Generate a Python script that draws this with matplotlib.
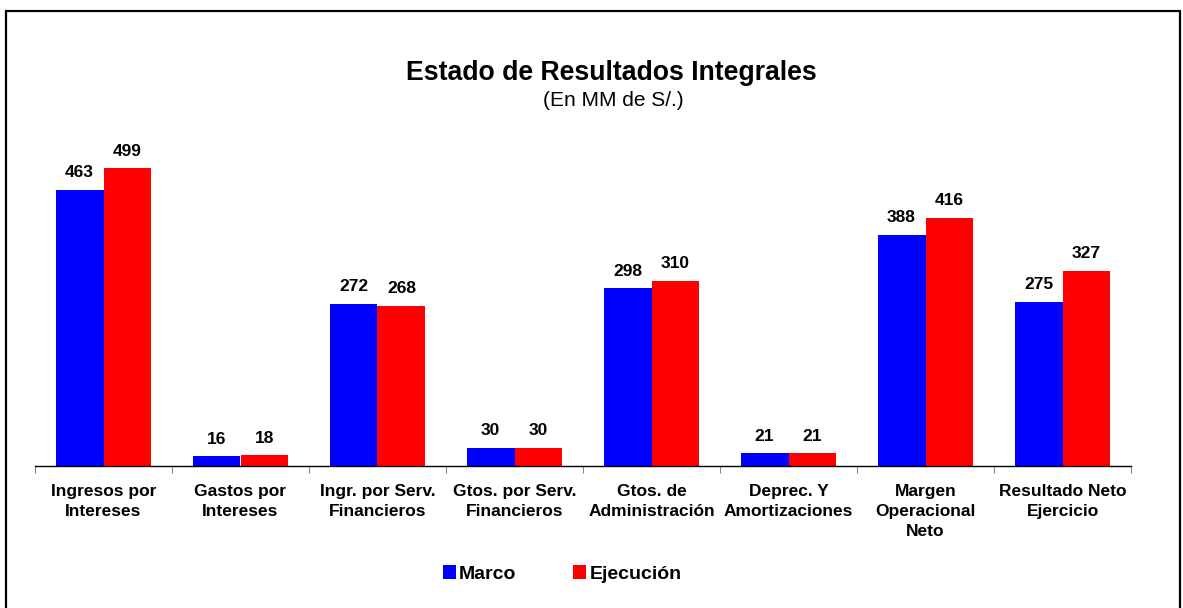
import matplotlib

matplotlib.use("Agg")
import matplotlib.pyplot as plt
import numpy as np
from matplotlib.patches import Rectangle

plt.rcParams["font.family"] = ["Liberation Sans", "DejaVu Sans"]

categories = [
    "Ingresos por\nIntereses",
    "Gastos por\nIntereses",
    "Ingr. por Serv.\nFinancieros",
    "Gtos. por Serv.\nFinancieros",
    "Gtos. de\nAdministración",
    "Deprec. Y\nAmortizaciones",
    "Margen\nOperacional\nNeto",
    "Resultado Neto\nEjercicio",
]
marco = [463, 16, 272, 30, 298, 21, 388, 275]
ejecucion = [499, 18, 268, 30, 310, 21, 416, 327]

BLUE = "#0000ff"
RED = "#ff0000"

fig = plt.figure(figsize=(11.83, 6.08), dpi=100)
fig.patch.set_facecolor("white")

# frame around whole chart (bottom edge falls outside the image)
fig.patches.append(Rectangle((6 / 1183, -0.02), 1174 / 1183, (608 - 11) / 608 + 0.02,
                             transform=fig.transFigure, fill=False, edgecolor="black",
                             linewidth=1.6))

ax = fig.add_axes([35 / 1183, (608 - 466) / 608, 1096 / 1183, 0.51])

x = np.arange(len(categories))
w = 0.35
ax.bar(x - w / 2, marco, w, color=BLUE, label="Marco")
ax.bar(x + w / 2, ejecucion, w, color=RED, label="Ejecución")

for xi, v in zip(x - w / 2, marco):
    ax.annotate(str(v), (xi, v), xytext=(0, 7), textcoords="offset points",
                ha="center", va="bottom", fontsize=12.5, fontweight="bold")
for xi, v in zip(x + w / 2, ejecucion):
    ax.annotate(str(v), (xi, v), xytext=(0, 7), textcoords="offset points",
                ha="center", va="bottom", fontsize=12.5, fontweight="bold")

ax.set_xlim(-0.5, len(categories) - 0.5)
ax.set_ylim(0, 520)
ax.set_yticks([])
for s in ("left", "right", "top"):
    ax.spines[s].set_visible(False)
ax.spines["bottom"].set_linewidth(1.0)

ax.set_xticks(x)
ax.set_xticklabels(categories, fontsize=12.5, fontweight="bold", linespacing=1.42)
ax.tick_params(axis="x", which="major", length=0, pad=13)
ax.set_xticks(np.arange(len(categories) + 1) - 0.5, minor=True)
ax.tick_params(axis="x", which="minor", length=5, color="#888888", width=0.8)

fig.text(611 / 1183, (608 - 73) / 608, "Estado de Resultados Integrales", ha="center",
         va="center", fontsize=19.2, fontweight="bold")
fig.text(613 / 1183, (608 - 100) / 608, "(En MM de S/.)", ha="center", va="center",
         fontsize=15)

fig.legend(loc="center", bbox_to_anchor=(562 / 1183, (608 - 574) / 608), ncol=2,
           frameon=False, handlelength=0.7, handleheight=0.7, handletextpad=0.15,
           columnspacing=2.9, prop={"size": 14, "weight": "bold"})

fig.savefig("out.png", dpi=100)
